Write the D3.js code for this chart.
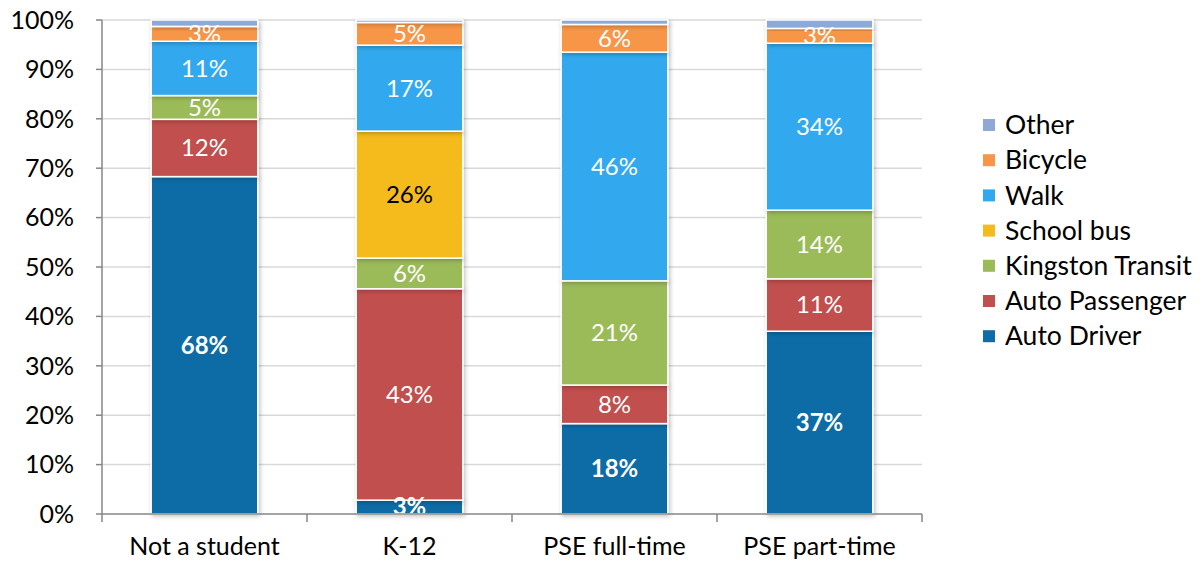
<!DOCTYPE html>
<html><head><meta charset="utf-8">
<script src="https://cdn.jsdelivr.net/npm/d3@7"></script>
<style>
html,body{margin:0;padding:0;background:#fff;}
svg{display:block;font-family:Lato,"Noto Sans",sans-serif;}
</style></head>
<body>
<svg id="chart" width="1202" height="561"></svg>
<script>
const categories = ["Not a student","K-12","PSE full-time","PSE part-time"];
const seriesNames = ["Auto Driver","Auto Passenger","Kingston Transit","School bus","Walk","Bicycle","Other"];
const autoDriver      = [68.3, 2.8, 18.3, 37.0];
const autoPassenger   = [11.6, 42.8, 7.8, 10.6];
const kingstonTransit = [4.8, 6.2, 21.1, 13.9];
const schoolBus       = [0, 25.7, 0, 0];
const walk            = [11.0, 17.4, 46.3, 33.8];
const bicycle         = [3.0, 4.6, 5.6, 3.0];
const other           = [1.3, 0.5, 0.9, 1.7];
const yTicks = [0,10,20,30,40,50,60,70,80,90,100];
const colors = ["#0F6CA6","#C0504D","#9BBB59","#F5BA1B","#31A9EE","#F79646","#8FA9D6"];

const seriesValues = [autoDriver, autoPassenger, kingstonTransit, schoolBus, walk, bicycle, other];
const rows = categories.map((c,i)=>{
  const r = {cat:c};
  seriesNames.forEach((s,j)=> r[s]=seriesValues[j][i]);
  return r;
});

const svg = d3.select("#chart");
const m = {left:102, right:922, top:20, bottom:514};
const x = d3.scaleBand().domain(categories).range([m.left,m.right]).paddingInner(0.48).paddingOuter(0.24);
const xb = d3.scaleBand().domain(categories).range([m.left,m.right]);
const y = d3.scaleLinear().domain([0,100]).range([m.bottom,m.top]);

const defs = svg.append("defs");
const f = defs.append("filter").attr("id","sh").attr("x","-20%").attr("y","-20%").attr("width","140%").attr("height","140%");
f.append("feDropShadow").attr("dx",1.5).attr("dy",1.5).attr("stdDeviation",2).attr("flood-color","#000").attr("flood-opacity",0.25);

// gridlines
svg.append("g").selectAll("line").data(yTicks.filter(d=>d>0)).join("line")
  .attr("x1",m.left).attr("x2",m.right)
  .attr("y1",d=>y(d)).attr("y2",d=>y(d))
  .attr("stroke","#d9d9d9").attr("stroke-width",1.5);

// bars
const stack = d3.stack().keys(seriesNames)(rows);
const gBars = svg.append("g");
stack.forEach((layer,j)=>{
  gBars.append("g").attr("filter","url(#sh)").selectAll("rect").data(layer.filter(d=>d[1]-d[0]>0)).join("rect")
    .attr("x",d=>x(d.data.cat))
    .attr("width",x.bandwidth())
    .attr("y",d=>y(d[1]))
    .attr("height",d=>y(d[0])-y(d[1]))
    .attr("fill",colors[j])
    .attr("stroke","#fff").attr("stroke-width",1.5);
});

// labels
const gLab = svg.append("g");
stack.forEach((layer,j)=>{
  if (seriesNames[j]==="Other") return;
  gLab.selectAll(null).data(layer.filter(d=>d[1]-d[0]>0)).join("text")
    .attr("x",d=>x(d.data.cat)+x.bandwidth()/2)
    .attr("y",d=>y((d[0]+d[1])/2))
    .attr("dy","0.35em")
    .attr("text-anchor","middle")
    .attr("font-size",24)
    .attr("font-weight",j===0?"bold":"normal")
    .attr("fill",seriesNames[j]==="School bus"?"#000":"#fff")
    .text(d=>Math.round(d[1]-d[0])+"%");
});

// axes
const ax = svg.append("g").attr("stroke","#868686").attr("stroke-width",1.5);
ax.append("line").attr("x1",m.left).attr("x2",m.left).attr("y1",m.top).attr("y2",m.bottom);
ax.append("line").attr("x1",m.left).attr("x2",m.right).attr("y1",m.bottom).attr("y2",m.bottom);
ax.selectAll(".yt").data(yTicks).join("line").attr("class","yt")
  .attr("x1",m.left-6).attr("x2",m.left).attr("y1",d=>y(d)).attr("y2",d=>y(d));
const xTickPos = categories.map(c=>xb(c)).concat([m.right]);
ax.selectAll(".xt").data(xTickPos).join("line").attr("class","xt")
  .attr("x1",d=>d).attr("x2",d=>d).attr("y1",m.bottom).attr("y2",m.bottom+8);

svg.append("g").selectAll("text").data(yTicks).join("text")
  .attr("x",m.left-28).attr("y",d=>y(d)).attr("dy","0.35em")
  .attr("text-anchor","end").attr("font-size",25).attr("fill","#000")
  .text(d=>d+"%");

svg.append("g").selectAll("text").data(categories).join("text")
  .attr("x",d=>xb(d)+xb.bandwidth()/2).attr("y",555)
  .attr("text-anchor","middle").attr("font-size",25).attr("fill","#000")
  .text(d=>d);

// legend
const legendOrder = seriesNames.slice().reverse();
const lg = svg.append("g");
legendOrder.forEach((s,i)=>{
  const cy = 125 + i*35.2;
  lg.append("rect").attr("x",983).attr("y",cy-6).attr("width",12).attr("height",12)
    .attr("fill",colors[seriesNames.indexOf(s)]);
  lg.append("text").attr("x",1005).attr("y",cy).attr("dy","0.35em")
    .attr("font-size",26.5).attr("fill","#000").text(s);
});
</script>
</body></html>
